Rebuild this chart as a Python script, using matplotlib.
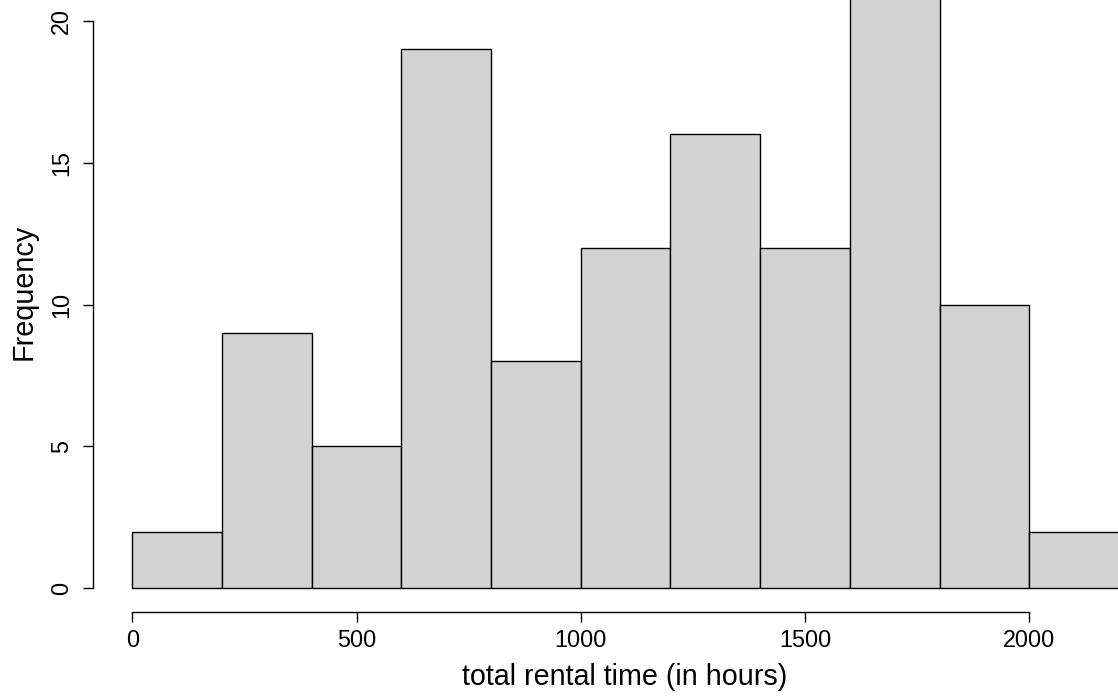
import numpy as np
import matplotlib
matplotlib.use("Agg")
import matplotlib.pyplot as plt

# histogram bins (hours) and counts
breaks = [0, 200, 400, 600, 800, 1000, 1200, 1400, 1600, 1800, 2000, 2200]
counts = [2, 9, 5, 19, 8, 12, 16, 12, 21, 10, 2]
x_ticks = [0, 500, 1000, 1500, 2000]
y_ticks = [0, 5, 10, 15, 20]

plt.rcParams['font.family'] = ['Liberation Sans', 'DejaVu Sans']

W, H = 1118, 698
fig = plt.figure(figsize=(W / 100, H / 100), dpi=100)
# plot region in pixels: left 93, bottom 612 (from top), extends off right/top edge
ax = fig.add_axes([93 / W, (H - 612) / H, (W - 93) / W, 612 / H])

edges = np.array(breaks)
ax.bar(edges[:-1], counts, width=np.diff(edges), align='edge',
       color='#d3d3d3', edgecolor='black', linewidth=1.0, clip_on=True)

ax.set_xlim(-87.6, -87.6 + (W - 93) / 0.4485)
ax.set_ylim(-0.835, 588.3 / 28.37)

for s in ['top', 'right']:
    ax.spines[s].set_visible(False)
ax.spines['left'].set_bounds(0, 20)
ax.spines['bottom'].set_bounds(0, 2000)
ax.spines['left'].set_linewidth(1.0)
ax.spines['bottom'].set_linewidth(1.0)

ax.set_xticks(x_ticks)
ax.set_yticks(y_ticks)
ax.set_xticklabels([str(v) for v in x_ticks])
ax.set_yticklabels([str(v) for v in y_ticks], rotation=90, va='center')
ax.tick_params(axis='both', direction='out', length=7.2, width=1.0,
               labelsize=16.8, colors='black')
ax.tick_params(axis='x', pad=5)
ax.tick_params(axis='y', pad=7)

ax.set_xlabel('total rental time (in hours)', fontsize=20.7)
ax.xaxis.set_label_coords((625 - 93) / (W - 93), (612 - 677) / 612)
ax.xaxis.label.set_va('center')
ax.set_ylabel('Frequency', fontsize=20.7)
ax.yaxis.set_label_coords((24 - 93) / (W - 93), (612 - 292) / 612)
ax.yaxis.label.set_va('center')

fig.savefig('out.png', dpi=100)
